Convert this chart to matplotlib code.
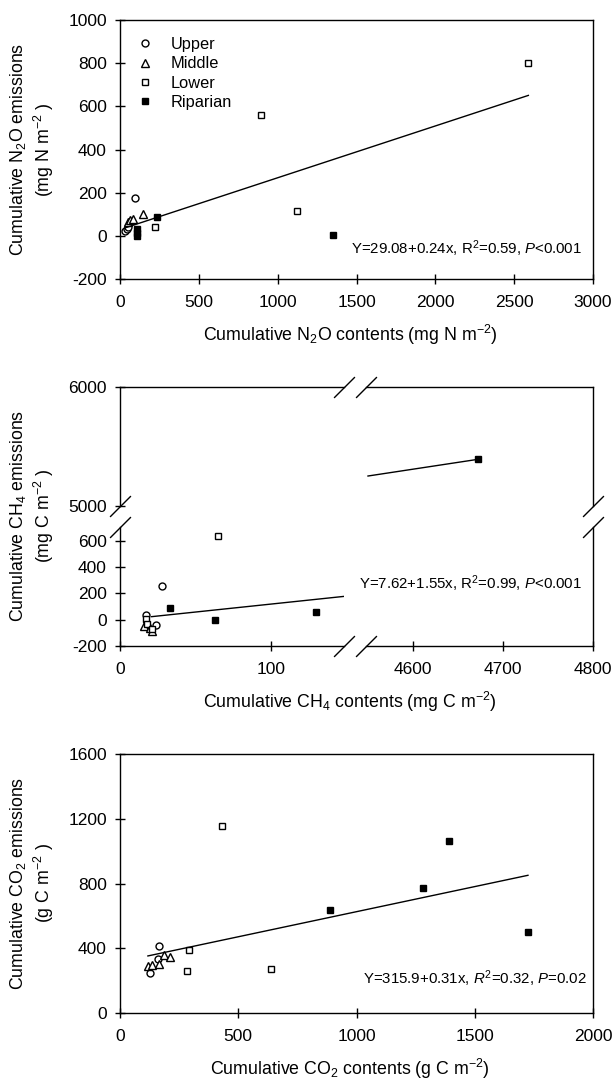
import matplotlib
matplotlib.use('Agg')
import matplotlib.pyplot as plt

plt.rcParams['font.family'] = ['Liberation Sans', 'DejaVu Sans']
plt.rcParams['mathtext.fontset'] = 'custom'
plt.rcParams['mathtext.rm'] = 'Liberation Sans'
plt.rcParams['mathtext.it'] = 'Liberation Sans:italic'
plt.rcParams['axes.linewidth'] = 1.0
plt.rcParams['axes.unicode_minus'] = False

groups = ['Upper', 'Middle', 'Lower', 'Riparian']

# N2O panel
n2o_upper_x = [32, 42, 50, 95]
n2o_upper_y = [22, 32, 43, 175]
n2o_middle_x = [50, 62, 80, 145]
n2o_middle_y = [65, 74, 80, 100]
n2o_lower_x = [222, 894, 1120, 2590]
n2o_lower_y = [43, 560, 117, 800]
n2o_rip_x = [110, 110, 110, 232, 1352]
n2o_rip_y = [-2, 15, 32, 86, 3]
n2o_fit = (29.08, 0.24)

# CH4 panel (broken axes)
ch4_upper_x = [17, 24, 28]
ch4_upper_y = [38, -38, 259]
ch4_middle_x = [16, 20, 21]
ch4_middle_y = [-50, -65, -85]
ch4_lower_x = [17.5, 18, 21, 65]
ch4_lower_y = [5, -30, -70, 633]
ch4_rip_x = [33, 63, 130, 4672]
ch4_rip_y = [87, -2, 62, 5392]
ch4_fit_low_x = [21, 150]
ch4_fit_low_y = [23, 179]
ch4_fit_high_x = [4550, 4672]
ch4_fit_high_y = [5252, 5392]

# CO2 panel
co2_upper_x = [127, 160, 165]
co2_upper_y = [248, 332, 414]
co2_middle_x = [118, 136, 164, 187, 213]
co2_middle_y = [289, 296, 300, 360, 344]
co2_lower_x = [284, 292, 430, 640]
co2_lower_y = [258, 388, 1157, 270]
co2_rip_x = [888, 1282, 1390, 1725]
co2_rip_y = [637, 775, 1060, 500]
co2_fit = (315.9, 0.31)

styles = {
    'Upper': dict(marker='o', ms=5, mfc='white'),
    'Middle': dict(marker='^', ms=5.5, mfc='white'),
    'Lower': dict(marker='s', ms=5, mfc='white'),
    'Riparian': dict(marker='s', ms=5, mfc='black'),
}

TICK_FS = 12.5
LABEL_FS = 12.8
EQ_FS = 10.8

W, H = 616, 1082
fig = plt.figure(figsize=(W / 100, H / 100), dpi=100)


def rect(x0, y0, x1, y1):
    # pixel box (top-left origin) -> figure fraction
    return [x0 / W, 1 - y1 / H, (x1 - x0) / W, (y1 - y0) / H]


def style_axis(ax):
    ax.tick_params(direction='inout', length=7, width=1, labelsize=TICK_FS,
                   top=False, right=False, pad=6)
    ax.tick_params(axis='x', pad=8)


def draw_points(ax, xs, ys):
    for g, (x, y) in zip(groups, zip(xs, ys)):
        ax.plot(x, y, linestyle='none', mec='black', mew=1, label=g, **styles[g])


def slash(ax, x, y):
    ax.plot([x], [y], transform=ax.transAxes, marker=[(-1, -1), (1, 1)],
            markersize=15, mew=1, color='black', linestyle='none', clip_on=False)


# ---------- top panel: N2O ----------
ax1 = fig.add_axes(rect(120, 20, 593, 279))
draw_points(ax1, [n2o_upper_x, n2o_middle_x, n2o_lower_x, n2o_rip_x],
            [n2o_upper_y, n2o_middle_y, n2o_lower_y, n2o_rip_y])
allx = n2o_upper_x + n2o_middle_x + n2o_lower_x + n2o_rip_x
fx = [min(allx), max(allx)]
ax1.plot(fx, [n2o_fit[0] + n2o_fit[1] * v for v in fx], color='black', lw=1)
ax1.set_xlim(0, 3000)
ax1.set_ylim(-200, 1000)
ax1.set_xticks(range(0, 3001, 500))
ax1.set_yticks(range(-200, 1001, 200))
style_axis(ax1)
ax1.set_ylabel('Cumulative N$_2$O emissions\n(mg N m$^{-2}$ )', fontsize=LABEL_FS)
ax1.yaxis.set_label_coords(-0.135, 0.5)
ax1.set_xlabel('Cumulative N$_2$O contents (mg N m$^{-2}$)', fontsize=LABEL_FS)
ax1.xaxis.set_label_coords(0.486, -0.17)
ax1.text(0.977, 0.116, 'Y=29.08+0.24x, R$^2$=0.59, $P$<0.001', transform=ax1.transAxes,
         ha='right', va='center', fontsize=EQ_FS)
ax1.legend(loc='upper left', bbox_to_anchor=(0.036, 0.935), frameon=False,
           fontsize=11.8, handlelength=1.0, handletextpad=1.05,
           labelspacing=0.27, borderpad=0, borderaxespad=0)

# ---------- middle panel: CH4 (broken axes) ----------
x_left, x_brk_l, x_brk_r, x_right = 120, 344, 366, 593
y_top, y_brk_t, y_brk_b, y_bot = 387, 506, 527, 646
ax_ul = fig.add_axes(rect(x_left, y_top, x_brk_l, y_brk_t))
ax_ur = fig.add_axes(rect(x_brk_r, y_top, x_right, y_brk_t))
ax_ll = fig.add_axes(rect(x_left, y_brk_b, x_brk_l, y_bot))
ax_lr = fig.add_axes(rect(x_brk_r, y_brk_b, x_right, y_bot))

low_xlim = (0, (x_brk_l - x_left) / 1.51)
high_xlim = (4800 - (x_right - x_brk_r) / 0.9, 4800)
low_ylim = (-200, -200 + (y_bot - y_brk_b) / 0.1316)
high_ylim = (5000, 6000)

for a in (ax_ul, ax_ur, ax_ll, ax_lr):
    draw_points(a, [ch4_upper_x, ch4_middle_x, ch4_lower_x, ch4_rip_x],
                [ch4_upper_y, ch4_middle_y, ch4_lower_y, ch4_rip_y])
    a.plot(ch4_fit_low_x, ch4_fit_low_y, color='black', lw=1)
    a.plot(ch4_fit_high_x, ch4_fit_high_y, color='black', lw=1)
    style_axis(a)

ax_ul.set_xlim(*low_xlim); ax_ul.set_ylim(*high_ylim)
ax_ur.set_xlim(*high_xlim); ax_ur.set_ylim(*high_ylim)
ax_ll.set_xlim(*low_xlim); ax_ll.set_ylim(*low_ylim)
ax_lr.set_xlim(*high_xlim); ax_lr.set_ylim(*low_ylim)

ax_ul.set_xticks([]); ax_ul.set_yticks([5000, 6000])
ax_ur.set_xticks([]); ax_ur.set_yticks([])
ax_ll.set_xticks([0, 100]); ax_ll.set_yticks(range(-200, 601, 200))
ax_lr.set_xticks([4600, 4700, 4800]); ax_lr.set_yticks([])

ax_ul.spines[['right', 'bottom']].set_visible(False)
ax_ur.spines[['left', 'bottom']].set_visible(False)
ax_ll.spines[['right', 'top']].set_visible(False)
ax_lr.spines[['left', 'top']].set_visible(False)

slash(ax_ul, 1, 1); slash(ax_ul, 0, 0)
slash(ax_ur, 0, 1); slash(ax_ur, 1, 0)
slash(ax_ll, 0, 1); slash(ax_ll, 1, 0)
slash(ax_lr, 1, 1); slash(ax_lr, 0, 0)

ax_ll.set_ylabel('Cumulative CH$_4$ emissions\n(mg C m$^{-2}$ )', fontsize=LABEL_FS)
ax_ll.yaxis.set_label_coords((120 - 0.135 * 473) / W, 1 - 516 / H, transform=fig.transFigure)
ax_ll.set_xlabel('Cumulative CH$_4$ contents (mg C m$^{-2}$)', fontsize=LABEL_FS)
ax_ll.xaxis.set_label_coords(350 / W, 1 - 690 / H, transform=fig.transFigure)
fig.text(359 / W, 1 - 584 / H, 'Y=7.62+1.55x, R$^2$=0.99, $P$<0.001',
         ha='left', va='center', fontsize=EQ_FS)

# ---------- bottom panel: CO2 ----------
ax3 = fig.add_axes(rect(120, 754, 593, 1013))
draw_points(ax3, [co2_upper_x, co2_middle_x, co2_lower_x, co2_rip_x],
            [co2_upper_y, co2_middle_y, co2_lower_y, co2_rip_y])
allx = co2_upper_x + co2_middle_x + co2_lower_x + co2_rip_x
fx = [min(allx), max(allx)]
ax3.plot(fx, [co2_fit[0] + co2_fit[1] * v for v in fx], color='black', lw=1)
ax3.set_xlim(0, 2000)
ax3.set_ylim(0, 1600)
ax3.set_xticks(range(0, 2001, 500))
ax3.set_yticks(range(0, 1601, 400))
style_axis(ax3)
ax3.set_ylabel('Cumulative CO$_2$ emissions\n(g C m$^{-2}$ )', fontsize=LABEL_FS)
ax3.yaxis.set_label_coords(-0.135, 0.5)
ax3.set_xlabel('Cumulative CO$_2$ contents (g C m$^{-2}$)', fontsize=LABEL_FS)
ax3.xaxis.set_label_coords(0.486, -0.17)
ax3.text(0.987, 0.131, 'Y=315.9+0.31x, $R^2$=0.32, $P$=0.02', transform=ax3.transAxes,
         ha='right', va='center', fontsize=EQ_FS)

fig.savefig('out.png', dpi=100)
